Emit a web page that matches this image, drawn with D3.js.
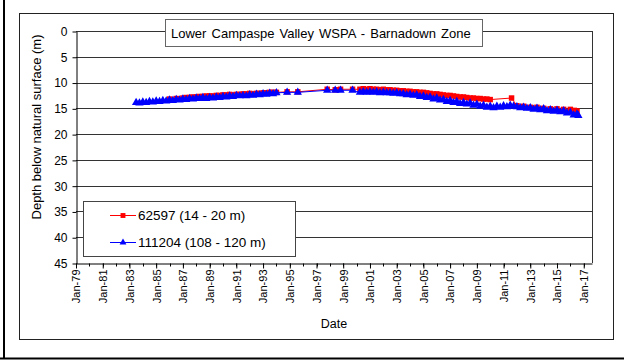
<!DOCTYPE html>
<html>
<head>
<meta charset="utf-8">
<script src="https://cdn.jsdelivr.net/npm/d3@7"></script>
<style>
  body { margin: 0; background: #fff; }
  svg { font-family: "Liberation Sans", Arial, sans-serif; }
</style>
</head>
<body>
<div id="chart"></div>
<script>
// bore 62597 (14 - 20 m), decimal years / depth below surface (m)
const redYears = [1986.0, 1986.5, 1987.0, 1987.25, 1987.5, 1987.75, 1988.0, 1988.25, 1988.5, 1988.75,
  1989.0, 1989.25, 1989.5, 1989.75, 1990.0, 1990.25, 1990.5, 1990.75, 1991.0, 1991.25,
  1991.5, 1991.75, 1992.0, 1992.25, 1992.5, 1992.75, 1993.0, 1993.25, 1993.5, 1993.75,
  1994.0, 1994.8, 1995.6, 1997.8, 1998.4, 1998.8, 1999.7,
  2000.25, 2000.5, 2000.75, 2001.0, 2001.25, 2001.5, 2001.75, 2002.0, 2002.25, 2002.5,
  2002.75, 2003.0, 2003.25, 2003.5, 2003.75, 2004.0, 2004.25, 2004.5, 2004.75, 2005.0,
  2005.25, 2005.5, 2005.75, 2006.0, 2006.25, 2006.5, 2006.75, 2007.0, 2007.25, 2007.5,
  2007.75, 2008.0, 2008.25, 2008.5, 2008.75, 2009.0, 2009.25, 2009.5, 2009.75, 2010.0,
  2011.6, 2012.0, 2012.5, 2013.0, 2013.5, 2014.0, 2014.5, 2015.0, 2015.5, 2016.0, 2016.3, 2016.5]
const redDepth = [13.2, 13.1, 13.0, 12.9, 12.9, 12.8, 12.8, 12.7, 12.7, 12.6,
  12.6, 12.6, 12.5, 12.5, 12.4, 12.4, 12.3, 12.4, 12.3, 12.3,
  12.2, 12.2, 12.1, 12.2, 12.1, 12.1, 12.0, 12.0, 11.9, 11.9,
  11.9, 11.8, 11.8, 11.3, 11.4, 11.3, 11.3,
  11.3, 11.2, 11.3, 11.2, 11.3, 11.3, 11.4, 11.3, 11.4, 11.4,
  11.5, 11.5, 11.6, 11.6, 11.7, 11.7, 11.8, 11.8, 11.9, 11.9,
  12.0, 12.1, 12.2, 12.2, 12.3, 12.4, 12.5, 12.5, 12.6, 12.7,
  12.8, 12.8, 12.9, 13.0, 13.0, 13.1, 13.1, 13.2, 13.2, 13.3,
  13.0, 14.5, 14.6, 14.8, 14.8, 15.0, 15.1, 15.1, 15.2, 15.2, 15.4, 15.5]

// bore 111204 (108 - 120 m)
const blueYears = [1983.5, 1983.75, 1984.0, 1984.25, 1984.5, 1984.75, 1985.0, 1985.25, 1985.5, 1985.75,
  1986.0, 1986.25, 1986.5, 1986.75, 1987.0, 1987.25, 1987.5, 1987.75, 1988.0, 1988.25,
  1988.5, 1988.75, 1989.0, 1989.25, 1989.5, 1989.75, 1990.0, 1990.25, 1990.5, 1990.75,
  1991.0, 1991.25, 1991.5, 1991.75, 1992.0, 1992.25, 1992.5, 1992.75, 1993.0, 1993.25,
  1993.5, 1993.75, 1994.0, 1994.8, 1995.6, 1997.8, 1998.4, 1998.8, 1999.7,
  2000.25, 2000.5, 2000.75, 2001.0, 2001.25, 2001.5, 2001.75, 2002.0, 2002.25, 2002.5,
  2002.75, 2003.0, 2003.25, 2003.5, 2003.75, 2004.0, 2004.25, 2004.5, 2004.75, 2005.0,
  2005.25, 2005.5, 2005.75, 2006.0, 2006.25, 2006.5, 2006.75, 2007.0, 2007.25, 2007.5,
  2007.75, 2008.0, 2008.25, 2008.5, 2008.75, 2009.0, 2009.25, 2009.5, 2009.75, 2010.0,
  2010.25, 2010.5, 2010.75, 2011.0, 2011.25, 2011.5, 2011.75, 2012.0, 2012.25, 2012.5,
  2012.75, 2013.0, 2013.25, 2013.5, 2013.75, 2014.0, 2014.25, 2014.5, 2014.75, 2015.0,
  2015.25, 2015.5, 2015.75, 2016.0, 2016.25, 2016.5, 2016.6]
const blueDepth = [13.9, 14.0, 13.8, 13.9, 13.7, 13.8, 13.6, 13.7, 13.5, 13.6,
  13.4, 13.5, 13.3, 13.4, 13.2, 13.3, 13.1, 13.2, 13.0, 13.1,
  12.9, 13.1, 12.9, 13.0, 12.8, 12.9, 12.7, 12.8, 12.6, 12.7,
  12.5, 12.6, 12.5, 12.6, 12.4, 12.5, 12.3, 12.4, 12.2, 12.3,
  12.1, 12.2, 12.0, 11.9, 11.9, 11.5, 11.5, 11.5, 11.5,
  11.9, 11.8, 11.9, 11.8, 11.9, 11.8, 12.0, 11.9, 12.0, 12.0,
  12.1, 12.0, 12.2, 12.2, 12.4, 12.3, 12.5, 12.4, 12.7, 12.6,
  12.9, 12.8, 13.2, 13.0, 13.4, 13.3, 13.7, 13.5, 13.9, 13.7,
  14.1, 13.9, 14.2, 14.0, 14.4, 14.2, 14.6, 14.4, 14.8, 14.6,
  14.9, 14.6, 14.8, 14.5, 14.7, 14.4, 14.6, 14.7, 14.9, 14.8,
  15.0, 14.9, 15.2, 15.0, 15.3, 15.1, 15.5, 15.3, 15.6, 15.4,
  15.7, 15.5, 15.9, 15.8, 16.3, 16.1, 16.4]

const yTicks = [0, 5, 10, 15, 20, 25, 30, 35, 40, 45]
const xLabelYears = [1979, 1981, 1983, 1985, 1987, 1989, 1991, 1993, 1995, 1997, 1999,
  2001, 2003, 2005, 2007, 2009, 2011, 2013, 2015, 2017]
const seriesNames = ["62597 (14 - 20 m)", "111204 (108 - 120 m)"]
const chartTitle = "Lower Campaspe Valley WSPA - Barnadown Zone"

const WIDTH = 624, HEIGHT = 360
const PLOT = { left: 76, right: 592, top: 31, bottom: 263 }

// decimal year -> Date
function toDate(yr) {
  let y = Math.floor(yr)
  let start = new Date(y, 0, 1)
  return new Date(start.getTime() + (yr - y) * 365.25 * 864e5)
}

let red = redYears.map((d, i) => ({ date: toDate(d), depth: redDepth[i] }))
let blue = blueYears.map((d, i) => ({ date: toDate(d), depth: blueDepth[i] }))

let svg = d3.select("#chart").append("svg")
  .attr("width", WIDTH)
  .attr("height", HEIGHT)

// outer frame (left + bottom only visible)
svg.append("line").attr("x1", 4).attr("x2", 4).attr("y1", 0).attr("y2", 359)
  .attr("stroke", "#000").attr("stroke-width", 2)
svg.append("line").attr("x1", 0).attr("x2", WIDTH).attr("y1", 358.5).attr("y2", 358.5)
  .attr("stroke", "#000").attr("stroke-width", 2)

// chart area frame
svg.append("rect")
  .attr("x", 19.5).attr("y", 13.5).attr("width", 594).attr("height", 326)
  .attr("fill", "none").attr("stroke", "#222")

let x = d3.scaleTime()
  .domain([new Date(1979, 0, 1), new Date(2017, 7, 15)])
  .range([PLOT.left, PLOT.right])

let y = d3.scaleLinear()
  .domain([0, 45])
  .range([PLOT.top, PLOT.bottom])

// gridlines
svg.append("g")
  .selectAll("line")
  .data(yTicks.slice(0, -1))
  .join("line")
  .attr("x1", PLOT.left).attr("x2", PLOT.right)
  .attr("y1", d => Math.round(y(d)) + 0.5)
  .attr("y2", d => Math.round(y(d)) + 0.5)
  .attr("stroke", "#333")

// right border of plot
svg.append("line")
  .attr("x1", PLOT.right + 0.5).attr("x2", PLOT.right + 0.5)
  .attr("y1", PLOT.top).attr("y2", PLOT.bottom)
  .attr("stroke", "#333")

// y axis
let yAxis = svg.append("g")
  .attr("transform", "translate(" + (PLOT.left + 0.5) + ",0.5)")
  .call(d3.axisLeft(y).tickValues(yTicks).tickSize(4).tickSizeOuter(0).tickPadding(5))
yAxis.selectAll("line, path").attr("stroke", "#000")
yAxis.selectAll("text").attr("font-size", 12).attr("fill", "#000")
  .attr("font-family", "Liberation Sans, Arial, sans-serif")

// x axis: minor ticks every year
let minorYears = d3.range(1979, 2018)
svg.append("g")
  .attr("transform", "translate(0," + (PLOT.bottom + 0.5) + ")")
  .selectAll("line")
  .data(minorYears)
  .join("line")
  .attr("x1", d => Math.round(x(new Date(d, 0, 1))) + 0.5)
  .attr("x2", d => Math.round(x(new Date(d, 0, 1))) + 0.5)
  .attr("y1", 0).attr("y2", 3)
  .attr("stroke", "#000")

let xAxis = svg.append("g")
  .attr("transform", "translate(0," + (PLOT.bottom + 0.5) + ")")
  .call(d3.axisBottom(x)
    .tickValues(xLabelYears.map(d => new Date(d, 0, 1)))
    .tickFormat(d3.timeFormat("Jan-%y"))
    .tickSize(5).tickSizeOuter(0))
xAxis.select("path").attr("stroke", "#000")
xAxis.selectAll("line").attr("stroke", "#000")
xAxis.selectAll("text")
  .attr("font-size", 11).attr("fill", "#000")
  .attr("font-family", "Liberation Sans, Arial, sans-serif")
  .attr("text-anchor", "end")
  .attr("transform", "rotate(-90)")
  .attr("x", -6).attr("y", 0).attr("dy", "0.35em")

// axis titles
svg.append("text")
  .attr("transform", "translate(41,127) rotate(-90)")
  .attr("text-anchor", "middle")
  .attr("font-size", 13)
  .text("Depth below natural surface (m)")

svg.append("text")
  .attr("x", (PLOT.left + PLOT.right) / 2).attr("y", 328)
  .attr("text-anchor", "middle")
  .attr("font-size", 12.5)
  .text("Date")

// series
let line = d3.line().x(d => x(d.date)).y(d => y(d.depth))
let squareSym = d3.symbol().type(d3.symbolSquare).size(30)
let triSym = d3.symbol().type(d3.symbolTriangle).size(30)

svg.append("path").datum(red).attr("d", line)
  .attr("fill", "none").attr("stroke", "#ff0000").attr("stroke-width", 1)
svg.append("g").selectAll("path").data(red).join("path")
  .attr("d", squareSym)
  .attr("transform", d => "translate(" + x(d.date) + "," + y(d.depth) + ")")
  .attr("fill", "#ff0000")

svg.append("path").datum(blue).attr("d", line)
  .attr("fill", "none").attr("stroke", "#0000ff").attr("stroke-width", 1)
svg.append("g").selectAll("path").data(blue).join("path")
  .attr("d", triSym)
  .attr("transform", d => "translate(" + x(d.date) + "," + y(d.depth) + ")")
  .attr("fill", "#0000ff")

// title box
svg.append("rect")
  .attr("x", 165.5).attr("y", 19.5).attr("width", 317).attr("height", 27)
  .attr("fill", "#fff").attr("stroke", "#666")
svg.append("text")
  .attr("x", 171).attr("y", 38)
  .attr("font-size", 13)
  .attr("word-spacing", 1.5)
  .text(chartTitle)

// legend
svg.append("rect")
  .attr("x", 83.5).attr("y", 201.5).attr("width", 212).attr("height", 55)
  .attr("fill", "#fff").attr("stroke", "#444")

let legendColors = ["#ff0000", "#0000ff"]
let legendSyms = [d3.symbol().type(d3.symbolSquare).size(24), d3.symbol().type(d3.symbolTriangle).size(20)]
let lg = svg.append("g").selectAll("g").data(seriesNames).join("g")
  .attr("transform", (d, i) => "translate(0," + (215 + i * 27) + ")")
lg.append("line")
  .attr("x1", 110).attr("x2", 136).attr("y1", 0.5).attr("y2", 0.5)
  .attr("stroke", (d, i) => legendColors[i])
lg.append("path")
  .attr("d", (d, i) => legendSyms[i]())
  .attr("transform", "translate(123,0.5)")
  .attr("fill", (d, i) => legendColors[i])
lg.append("text")
  .attr("x", 138).attr("y", 5)
  .attr("font-size", 13.5)
  .text(d => d)
</script>
</body>
</html>
